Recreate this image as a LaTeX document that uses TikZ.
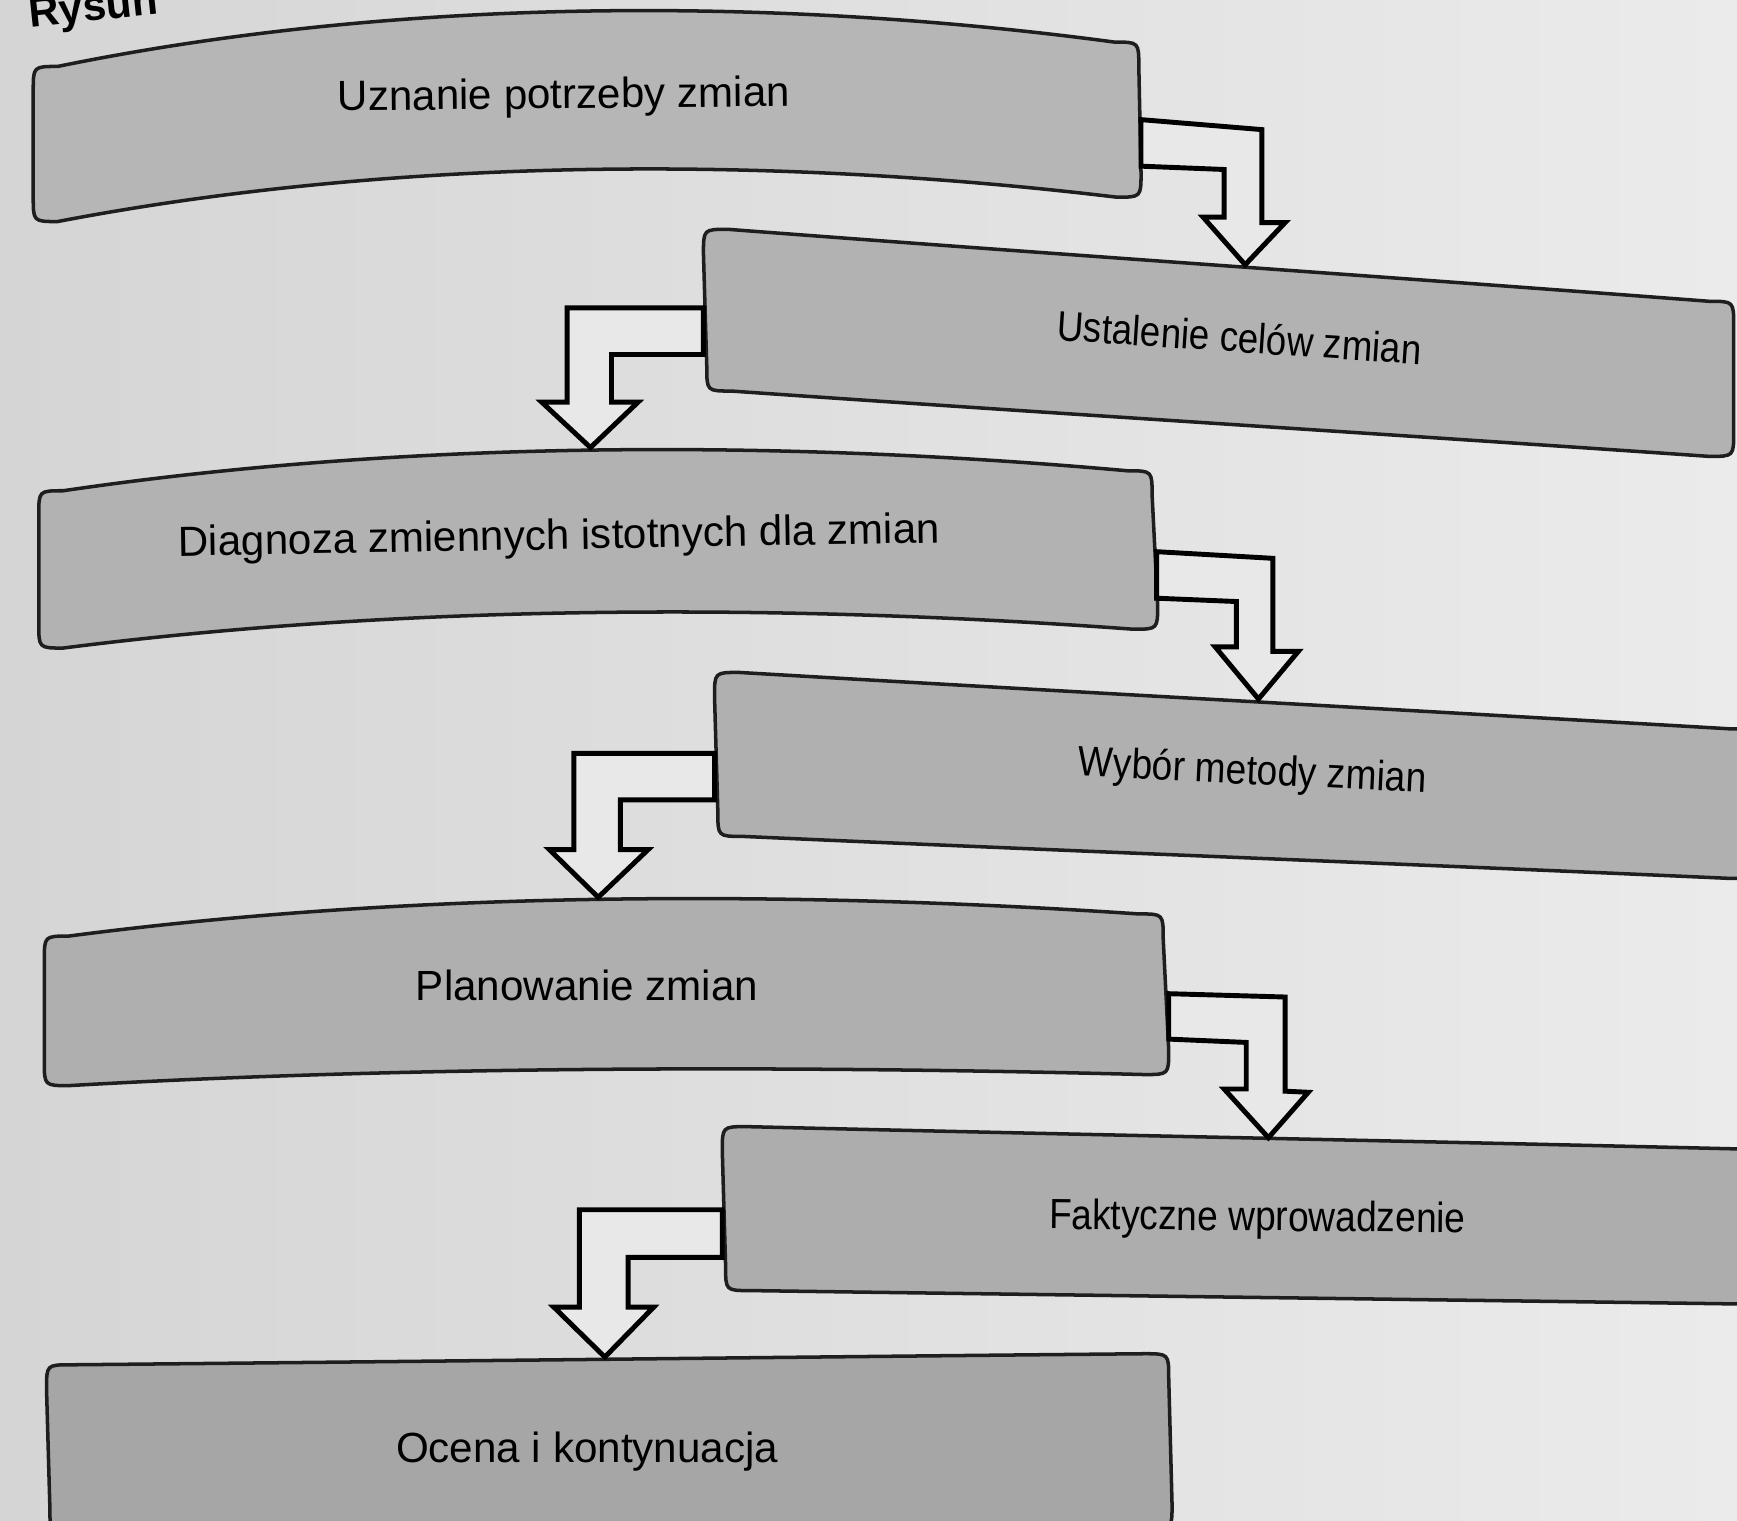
\documentclass[tikz,border=0pt]{standalone}
\usepackage{fontspec}
\setmainfont{Liberation Sans}
\usetikzlibrary{calc}

\definecolor{paperlight}{HTML}{EBEBEB}
\definecolor{paperdark}{HTML}{D5D5D5}
\definecolor{arrowfill}{HTML}{E8E8E8}
\definecolor{inkgray}{HTML}{1E1E1E}

\tikzset{
  stage/.style={draw=inkgray, line width=1pt, fill=#1},
  steptext/.style={font=\fontsize{12}{14}\selectfont, text=black, anchor=base, inner sep=0pt},
  flow/.style={draw=black, line width=1.4pt, fill=arrowfill, line join=miter},
}

% rounded band: style, TL, top ctrl 1, top ctrl 2, TR, BR, bottom ctrl 1, bottom ctrl 2, BL
\newcommand\stagepath[9]{%
  \path[#1] ($(#2)+(0,22)$) .. controls (#2) .. ($(#2)+(22,0)$)
    .. controls (#3) and (#4) .. ($(#5)+(-22,0)$) .. controls (#5) .. ($(#5)+(0,22)$)
    -- ($(#6)+(0,-22)$) .. controls (#6) .. ($(#6)+(-22,0)$)
    .. controls (#7) and (#8) .. ($(#9)+(22,0)$) .. controls (#9) .. ($(#9)+(0,-22)$) -- cycle;}

\begin{document}
\begin{tikzpicture}[x=0.110778mm, y=-0.110778mm]

\useasboundingbox (0,0) rectangle (1568,1373);
\fill[left color=paperdark, right color=paperlight] (0,0) rectangle (1568,1373);

% stages
\stagepath{stage=gray!57}{30,60}{360,-3}{700,-3}{1028,38}{1030,178}{700,141}{360,141}{30,200}
\stagepath{stage=gray!60}{635,207}{945,229}{1255,250}{1565,272}{1565,412}{1256,392}{947,373}{638,353}
\stagepath{stage=gray!60}{35,443}{370,397}{705,397}{1040,425}{1045,568}{710,545}{370,545}{35,585}
\stagepath{stage=gray!62}{645,607}{958,624}{1272,641}{1585,658}{1585,793}{1273,780}{960,768}{648,755}
\stagepath{stage=gray!63}{40,845}{375,804}{715,804}{1050,825}{1055,970}{720,962}{375,962}{40,980}
\stagepath{stage=gray!64}{652,1017}{963,1024}{1274,1030}{1585,1037}{1585,1177}{1275,1173}{965,1169}{655,1165}
\stagepath{stage=gray!70}{42,1232}{380,1229}{718,1225}{1055,1222}{1058,1380}{720,1381}{383,1381}{45,1382}

% elbow arrows
\draw[flow] (1030,108) -- (1139,117) -- (1139,201) -- (1160,201) -- (1124,239) -- (1086,196)
  -- (1105,196) -- (1105,153) -- (1030,150) -- cycle;
\draw[flow] (635,278) -- (512,278) -- (512,363) -- (489,363) -- (533,404) -- (576,363)
  -- (552,363) -- (552,320) -- (635,320) -- cycle;
\draw[flow] (1044,498) -- (1149,504) -- (1149,588) -- (1172,588) -- (1136,631) -- (1097,584)
  -- (1116,584) -- (1116,543) -- (1044,540) -- cycle;
\draw[flow] (645,680) -- (518,680) -- (518,767) -- (496,767) -- (540,810) -- (585,767)
  -- (560,767) -- (560,722) -- (645,722) -- cycle;
\draw[flow] (1055,897) -- (1160,900) -- (1160,985) -- (1181,986) -- (1145,1027) -- (1105,983)
  -- (1125,983) -- (1125,941) -- (1055,938) -- cycle;
\draw[flow] (652,1092) -- (523,1092) -- (523,1180) -- (500,1180) -- (546,1225) -- (590,1180)
  -- (567,1180) -- (567,1135) -- (652,1135) -- cycle;

% texts
\node[steptext, font=\bfseries\fontsize{12}{14}\selectfont, anchor=base west, rotate=6] (fig) at (27,25) {Rysun};
\node[steptext, rotate=0.6] (s1) at (509,98) {Uznanie potrzeby zmian};
\node[steptext, rotate=-3.8, xscale=0.87] (s2) at (1118,318) {Ustalenie celów zmian};
\node[steptext, rotate=1] (s3) at (505,496) {Diagnoza zmiennych istotnych dla zmian};
\node[steptext, rotate=-2.8, xscale=0.88] (s4) at (1130,708) {Wybór metody zmian};
\node[steptext] (s5) at (530,903) {Planowanie zmian};
\node[steptext, rotate=-0.5, xscale=0.88] (s6) at (1135,1111) {Faktyczne wprowadzenie};
\node[steptext] (s7) at (530,1320) {Ocena i kontynuacja};

\end{tikzpicture}
\end{document}
